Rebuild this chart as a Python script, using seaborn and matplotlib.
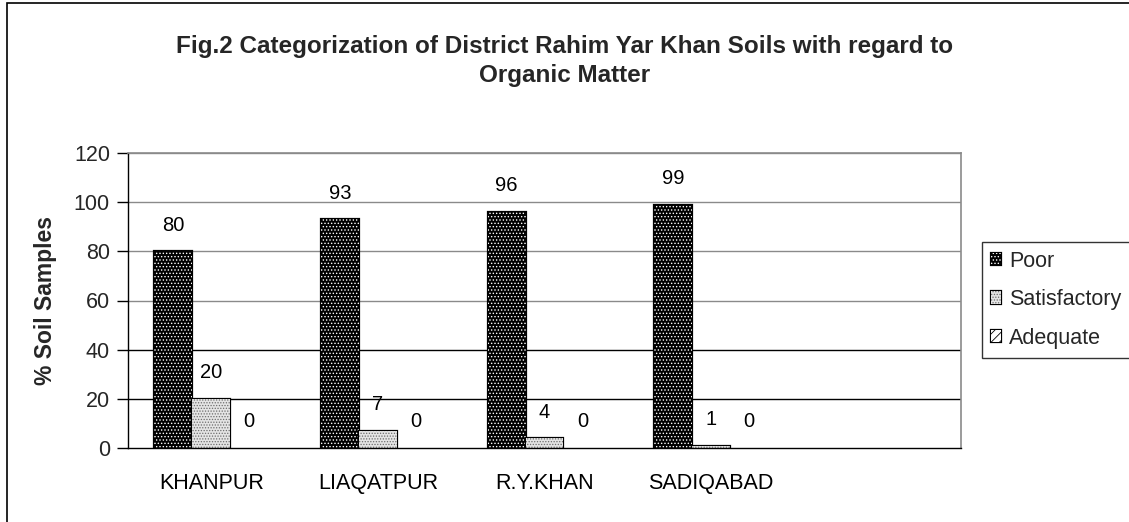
import matplotlib
matplotlib.use("Agg")
import matplotlib.pyplot as plt
import matplotlib.patheffects as pe
from matplotlib.patches import Patch, Rectangle
import pandas as pd
import seaborn as sns

# ---- data ----
categories = ["KHANPUR", "LIAQATPUR", "R.Y.KHAN", "SADIQABAD"]
series_names = ["Poor", "Satisfactory", "Adequate"]
poor = [80, 93, 96, 99]
satisfactory = [20, 7, 4, 1]
adequate = [0, 0, 0, 0]
yticks = [0, 20, 40, 60, 80, 100, 120]
title = "Fig.2 Categorization of District Rahim Yar Khan Soils with regard to\nOrganic Matter"
ylabel = "% Soil Samples"

df = pd.DataFrame({
    "District": categories * 3,
    "Category": [s for s in series_names for _ in categories],
    "Value": poor + satisfactory + adequate,
})

sns.set_theme(style="white")
plt.rcParams["font.family"] = ["Liberation Sans", "DejaVu Sans"]
plt.rcParams["hatch.linewidth"] = 0.6

styles = {
    "Poor": dict(face="black", hatch_color="white", hatch="....."),
    "Satisfactory": dict(face="#e4e4e4", hatch_color="#6e6e6e", hatch="......"),
    "Adequate": dict(face="white", hatch_color="black", hatch="////"),
}

fig = plt.figure(figsize=(11.29, 5.22), dpi=100)
fig.patch.set_facecolor("white")
ax = fig.add_axes([128 / 1129, 1 - 448 / 522, (961 - 128) / 1129, (448 - 153) / 522])

sns.barplot(data=df, x="District", y="Value", hue="Category", order=categories,
            hue_order=series_names, palette=[styles[s]["face"] for s in series_names],
            width=0.684, gap=0, saturation=1, edgecolor="black", linewidth=1,
            legend=False, ax=ax)

outline = [pe.Stroke(linewidth=1.6, foreground="black"), pe.Normal()]
for cont, name in zip(ax.containers, series_names):
    st = styles[name]
    for bar in cont:
        bar.set_facecolor(st["face"])
        bar.set_edgecolor(st["hatch_color"])
        bar.set_hatch(st["hatch"])
        bar.set_linewidth(0)
        if bar.get_height() > 0:
            bar.set_path_effects(outline)
        else:
            bar.set_visible(False)
    ax.bar_label(cont, fmt="%g", padding=12, fontsize=14.5, color="black")

ax.set_xlim(-0.5, 4.5)
ax.set_ylim(0, 120)
ax.set_yticks(yticks)
ax.set_yticklabels([str(v) for v in yticks], fontsize=15.5)
ax.set_xticks(range(len(categories)))
ax.set_xticklabels(categories, fontsize=15.5)
ax.set_xticks([i - 0.5 for i in range(6)], minor=True)
ax.tick_params(axis="x", which="major", length=0, pad=18, colors="black")
ax.tick_params(axis="x", which="minor", length=8, width=1, direction="out", color="#333333")
ax.tick_params(axis="y", length=8, width=1, direction="out", pad=5, color="black", left=True)
ax.set_xlabel("")
ax.set_ylabel(ylabel, fontsize=16.5, fontweight="bold", labelpad=12)

for v in yticks[1:]:
    ax.axhline(v, color="#8a8a8a" if v >= 60 else "black", linewidth=1, zorder=0.5)

for side in ["left", "bottom"]:
    ax.spines[side].set_color("black")
    ax.spines[side].set_linewidth(1)
for side in ["top", "right"]:
    ax.spines[side].set_color("#8a8a8a")
    ax.spines[side].set_linewidth(1.2)
    ax.spines[side].set_visible(True)

fig.text(565 / 1129, 1 - 61 / 522, title, ha="center", va="center",
         fontsize=17.5, fontweight="bold", linespacing=1.38)

handles = []
for name in series_names:
    st = styles[name]
    handles.append(Patch(facecolor=st["face"], edgecolor=st["hatch_color"], hatch=st["hatch"],
                         linewidth=0, path_effects=outline, label=name))
leg = fig.legend(handles=handles, loc="upper left", bbox_to_anchor=(982 / 1129, 1 - 242 / 522),
                 fontsize=15.5, frameon=True, fancybox=False, handlelength=0.5, handleheight=0.5,
                 handletextpad=0.35, labelspacing=0.82, borderpad=0.4, borderaxespad=0)
leg.get_frame().set_edgecolor("black")
leg.get_frame().set_linewidth(1)

fig.patches.append(Rectangle((7 / 1129, -0.1), 1.2, 1.1 - 3 / 522,
                             transform=fig.transFigure, fill=False, edgecolor="black",
                             linewidth=1.2, figure=fig))

fig.savefig("out.png", dpi=100, facecolor="white")
